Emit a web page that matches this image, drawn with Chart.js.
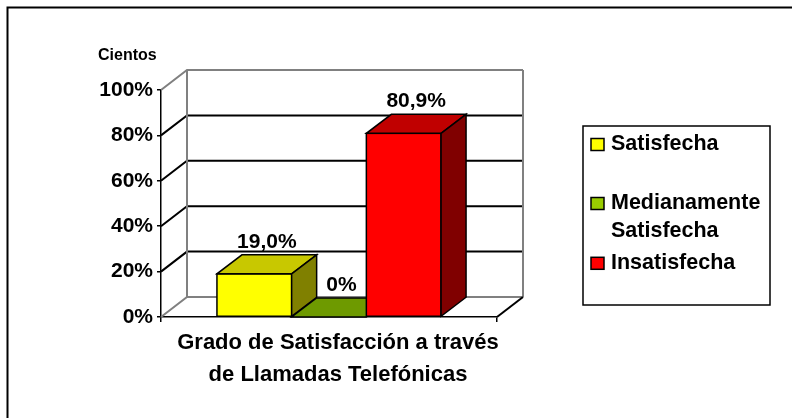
<!DOCTYPE html>
<html><head><meta charset="utf-8">
<script src="https://cdn.jsdelivr.net/npm/chart.js@4.4.0/dist/chart.umd.min.js"></script>
<style>html,body{margin:0;padding:0;background:#fff;overflow:hidden}canvas{display:block}</style>
</head><body>
<canvas id="c" width="792" height="418"></canvas>
<script>
// ---- data ----
const categories = [["Grado de Satisfacción a través", "de Llamadas Telefónicas"]];
const seriesNames = ["Satisfecha", "Medianamente Satisfecha", "Insatisfecha"];
const satisfecha = [19.0];
const medianamente = [0];
const insatisfecha = [80.9];
const valueLabels = ["19,0%", "0%", "80,9%"];
const yTicks = [0, 20, 40, 60, 80, 100];
const yTickLabels = ["0%", "20%", "40%", "60%", "80%", "100%"];
const unitLabel = "Cientos";

// ---- styles ----
const frontColors = ["#FFFF00", "#99CC00", "#FF0000"];
const topColors = ["#C8C800", "#6E9A00", "#C00000"];
const sideColors = ["#808000", "#4D6B00", "#800000"];
const FONT = '"Liberation Sans", Arial, Helvetica, sans-serif';
const DX = 26, DY = -20;    // wall depth
const BDX = 25, BDY = -19;  // bar depth

const threeD = {
  id: 'threeD',
  beforeDatasetsDraw(chart) {
    const {ctx, chartArea: a, scales: {y}} = chart;
    ctx.save();
    ctx.lineWidth = 2;
    yTicks.forEach(v => {
      const py = y.getPixelForValue(v);
      const edge = (v === y.min || v === y.max);
      ctx.strokeStyle = edge ? '#808080' : '#000000';
      ctx.beginPath();
      ctx.moveTo(a.left, py);
      ctx.lineTo(a.left + DX, py + DY);
      ctx.lineTo(a.right + DX, py + DY);
      ctx.stroke();
    });
    ctx.strokeStyle = '#808080';
    ctx.beginPath();
    ctx.moveTo(a.left + DX, a.top + DY); ctx.lineTo(a.left + DX, a.bottom + DY);
    ctx.moveTo(a.right + DX, a.top + DY); ctx.lineTo(a.right + DX, a.bottom + DY);
    ctx.stroke();
    ctx.strokeStyle = '#000000';
    ctx.beginPath();
    ctx.moveTo(a.right, a.bottom); ctx.lineTo(a.right + DX, a.bottom + DY);
    ctx.stroke();
    ctx.restore();
  },
  afterDatasetsDraw(chart) {
    const {ctx} = chart;
    ctx.save();
    ctx.lineWidth = 1.5;
    ctx.strokeStyle = '#000000';
    ctx.lineJoin = 'miter';
    chart.data.datasets.forEach((ds, i) => {
      const bar = chart.getDatasetMeta(i).data[0];
      const p = bar.getProps(['x', 'y', 'base', 'width'], true);
      const l = p.x - p.width / 2, r = p.x + p.width / 2, t = p.y, b = p.base;
      if (b - t > 0.5) {
        ctx.fillStyle = frontColors[i];
        ctx.fillRect(l, t, r - l, b - t);
        ctx.strokeRect(l, t, r - l, b - t);
      }
      ctx.fillStyle = topColors[i];
      ctx.beginPath();
      ctx.moveTo(l, t); ctx.lineTo(r, t); ctx.lineTo(r + BDX, t + BDY); ctx.lineTo(l + BDX, t + BDY);
      ctx.closePath(); ctx.fill(); ctx.stroke();
      if (b - t > 0.5) {
        ctx.fillStyle = sideColors[i];
        ctx.beginPath();
        ctx.moveTo(r, t); ctx.lineTo(r + BDX, t + BDY); ctx.lineTo(r + BDX, b + BDY); ctx.lineTo(r, b);
        ctx.closePath(); ctx.fill(); ctx.stroke();
      }
    });
    ctx.fillStyle = '#000000';
    ctx.font = 'bold 21px ' + FONT;
    ctx.textAlign = 'center';
    ctx.textBaseline = 'alphabetic';
    chart.data.datasets.forEach((ds, i) => {
      const bar = chart.getDatasetMeta(i).data[0];
      const p = bar.getProps(['x', 'y'], true);
      ctx.fillText(valueLabels[i], p.x + BDX / 2, p.y + BDY - 7);
    });
    ctx.restore();
  },
  afterDraw(chart) {
    const {ctx} = chart;
    ctx.save();
    ctx.fillStyle = '#000000';
    ctx.font = 'bold 16px ' + FONT;
    ctx.textAlign = 'left';
    ctx.textBaseline = 'middle';
    ctx.fillText(unitLabel, 98, 56);
    const L = {x: 583, y: 126, w: 187, h: 179, rows: [144.5, 203.5, 263.3], lh: 27.3};
    ctx.lineWidth = 1.5;
    ctx.strokeStyle = '#000000';
    ctx.strokeRect(L.x, L.y, L.w, L.h);
    ctx.font = 'bold 21.5px ' + FONT;
    seriesNames.forEach((name, i) => {
      const cy = L.rows[i];
      ctx.fillStyle = frontColors[i];
      ctx.fillRect(591, cy - 6, 13, 12);
      ctx.lineWidth = 1.5;
      ctx.strokeRect(591, cy - 6, 13, 12);
      const maxW = L.x + L.w - 611 - 2;
      const words = name.split(' ');
      const lines = [];
      let cur = '';
      words.forEach(w => {
        const test = cur ? cur + ' ' + w : w;
        if (ctx.measureText(test).width > maxW && cur) { lines.push(cur); cur = w; }
        else cur = test;
      });
      lines.push(cur);
      ctx.fillStyle = '#000000';
      lines.forEach((ln, k) => ctx.fillText(ln, 611, cy + k * L.lh));
    });
    ctx.lineWidth = 2;
    ctx.beginPath();
    ctx.moveTo(7.5, 418); ctx.lineTo(7.5, 7.5); ctx.lineTo(792, 7.5);
    ctx.stroke();
    ctx.restore();
  }
};

const datasets = [satisfecha, medianamente, insatisfecha].map((d, i) => ({
  label: seriesNames[i],
  data: d,
  backgroundColor: frontColors[i],
  borderColor: '#000000',
  borderWidth: 1.5,
  categoryPercentage: 0.667,
  barPercentage: 1.0
}));

new Chart(document.getElementById('c'), {
  type: 'bar',
  data: {labels: categories, datasets},
  options: {
    responsive: false,
    animation: false,
    devicePixelRatio: 1,
    layout: {padding: {left: 0, top: 90, right: 295, bottom: 0}},
    plugins: {legend: {display: false}, tooltip: {enabled: false}},
    scales: {
      x: {
        afterFit(s) { s.height = 101; },
        grid: {display: true, drawOnChartArea: false, drawTicks: true, tickLength: 5, color: '#000000', lineWidth: 1.5},
        border: {display: true, color: '#000000', width: 1.5},
        ticks: {color: '#000000', font: {family: FONT, size: 22, weight: 'bold', lineHeight: 1.45}, padding: 5, labelOffset: 9, maxRotation: 0, autoSkip: false}
      },
      y: {
        min: 0, max: 100,
        afterFit(s) { s.width = 161; },
        grid: {display: true, drawOnChartArea: false, drawTicks: true, tickLength: 4, color: '#000000', lineWidth: 1.5},
        border: {display: true, color: '#000000', width: 1.5},
        ticks: {stepSize: 20, color: '#000000', padding: 4, font: {family: FONT, size: 21, weight: 'bold'},
          callback: (v) => { const k = yTicks.indexOf(v); return k >= 0 ? yTickLabels[k] : ''; }}
      }
    }
  },
  plugins: [threeD]
});
</script>
</body></html>
